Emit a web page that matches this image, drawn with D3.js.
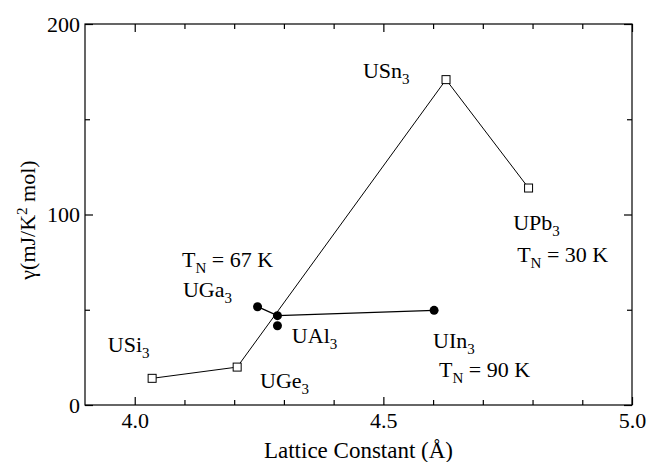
<!DOCTYPE html>
<html>
<head>
<meta charset="utf-8">
<script src="https://cdn.jsdelivr.net/npm/d3@7"></script>
<style>
  body { margin: 0; background: #fff; }
  svg text { fill: #000; }
</style>
</head>
<body>
<div id="chart"></div>
<script>
// lattice constant (A) and gamma (mJ/K^2 mol)
var openNames   = ["USi3", "UGe3", "USn3", "UPb3"];
var openLattice = [4.035, 4.206, 4.626, 4.792];
var openGamma   = [14.0, 19.9, 170.8, 113.9];

var filledNames   = ["UGa3", "UAl3 (line)", "UIn3"];
var filledLattice = [4.247, 4.287, 4.602];
var filledGamma   = [51.6, 46.9, 49.7];

// the lone UAl3 point
var extraLattice = [4.287];
var extraGamma   = [41.6];

var xMajor = [4.0, 4.5, 5.0];
var xMinor = [4.1, 4.2, 4.3, 4.4, 4.6, 4.7, 4.8, 4.9];
var yMajor = [0, 100, 200];
var yMinor = [50, 150];

// annotation text, placed in data units
var labels = [
  {main: "USi", sub: "3", rest: "", x: 3.946, y: 27.8},
  {main: "UGe", sub: "3", rest: "", x: 4.252, y: 8.9},
  {main: "USn", sub: "3", rest: "", x: 4.459, y: 171.7},
  {main: "UPb", sub: "3", rest: "", x: 4.761, y: 91.9},
  {main: "T", sub: "N", rest: " = 30 K", x: 4.769, y: 75},
  {main: "T", sub: "N", rest: " = 67 K", x: 4.095, y: 72.4},
  {main: "UGa", sub: "3", rest: "", x: 4.097, y: 56.7},
  {main: "UAl", sub: "3", rest: "", x: 4.316, y: 32.5},
  {main: "UIn", sub: "3", rest: "", x: 4.600, y: 29.9},
  {main: "T", sub: "N", rest: " = 90 K", x: 4.612, y: 14.9}
];

var FONT = "Liberation Serif";

var width = 647, height = 462;
var margin = {top: 24, right: 15, bottom: 57, left: 85};
var w = width - margin.left - margin.right,
    h = height - margin.top - margin.bottom;

var svg = d3.select("#chart").append("svg")
  .attr("width", width)
  .attr("height", height)
  .attr("font-family", FONT);

var g = svg.append("g")
  .attr("transform", "translate(" + margin.left + "," + margin.top + ")");

var x = d3.scaleLinear().domain([3.9, 5.0]).range([0, w]);
var y = d3.scaleLinear().domain([0, 200]).range([h, 0]);

// frame
g.append("rect")
  .attr("width", w).attr("height", h)
  .attr("fill", "none").attr("stroke", "#000").attr("stroke-width", 1.2);

function styleAxis(sel) {
  sel.attr("font-family", FONT).attr("font-size", 22);
  sel.select(".domain").remove();
  sel.selectAll("line").attr("stroke", "#000").attr("stroke-width", 1.2);
}

// bottom
g.append("g").attr("transform", "translate(0," + h + ")")
  .call(d3.axisBottom(x).tickValues(xMajor).tickFormat(d3.format(".1f")).tickSize(-8).tickPadding(7))
  .call(styleAxis);
g.append("g").attr("transform", "translate(0," + h + ")")
  .call(d3.axisBottom(x).tickValues(xMinor).tickFormat("").tickSize(-5))
  .call(styleAxis);
// top
g.append("g")
  .call(d3.axisTop(x).tickValues(xMajor).tickFormat("").tickSize(-8))
  .call(styleAxis);
g.append("g")
  .call(d3.axisTop(x).tickValues(xMinor).tickFormat("").tickSize(-5))
  .call(styleAxis);
// left
g.append("g")
  .call(d3.axisLeft(y).tickValues(yMajor).tickSize(-8).tickPadding(5))
  .call(styleAxis);
g.append("g")
  .call(d3.axisLeft(y).tickValues(yMinor).tickFormat("").tickSize(-5))
  .call(styleAxis);
// right
g.append("g").attr("transform", "translate(" + w + ",0)")
  .call(d3.axisRight(y).tickValues(yMajor).tickFormat("").tickSize(-8))
  .call(styleAxis);
g.append("g").attr("transform", "translate(" + w + ",0)")
  .call(d3.axisRight(y).tickValues(yMinor).tickFormat("").tickSize(-5))
  .call(styleAxis);

var line = d3.line()
  .x(function(d) { return x(d[0]); })
  .y(function(d) { return y(d[1]); });

var openData = openLattice.map(function(v, i) { return [v, openGamma[i]]; });
var filledData = filledLattice.map(function(v, i) { return [v, filledGamma[i]]; });
var extraData = extraLattice.map(function(v, i) { return [v, extraGamma[i]]; });

g.append("path").datum(openData)
  .attr("d", line).attr("fill", "none").attr("stroke", "#000").attr("stroke-width", 1);
g.append("path").datum(filledData)
  .attr("d", line).attr("fill", "none").attr("stroke", "#000").attr("stroke-width", 1.3);

// filled circles
g.selectAll("circle.filled")
  .data(filledData.concat(extraData))
  .enter().append("circle")
  .attr("class", "filled")
  .attr("cx", function(d) { return x(d[0]); })
  .attr("cy", function(d) { return y(d[1]); })
  .attr("r", 4.5)
  .attr("fill", "#000");

// open squares
var sq = 8;
g.selectAll("rect.open")
  .data(openData)
  .enter().append("rect")
  .attr("class", "open")
  .attr("x", function(d) { return x(d[0]) - sq / 2; })
  .attr("y", function(d) { return y(d[1]) - sq / 2; })
  .attr("width", sq).attr("height", sq)
  .attr("fill", "#fff").attr("stroke", "#000").attr("stroke-width", 1);

// annotations
labels.forEach(function(l) {
  var t = g.append("text")
    .attr("x", x(l.x)).attr("y", y(l.y))
    .attr("font-size", 22);
  t.append("tspan").text(l.main);
  t.append("tspan").attr("dy", 6).attr("font-size", 15).text(l.sub);
  if (l.rest) t.append("tspan").attr("dy", -6).text(l.rest);
});

// axis titles
svg.append("text")
  .attr("x", margin.left + w / 2).attr("y", 458)
  .attr("text-anchor", "middle").attr("font-size", 23)
  .text("Lattice Constant (\u00C5)");

var yt = svg.append("text")
  .attr("transform", "translate(35,220) rotate(-90)")
  .attr("text-anchor", "middle").attr("font-size", 22);
yt.append("tspan").text("\u03B3(mJ/K");
yt.append("tspan").attr("dy", -8).attr("font-size", 15).text("2");
yt.append("tspan").attr("dy", 8).text(" mol)");
</script>
</body>
</html>
